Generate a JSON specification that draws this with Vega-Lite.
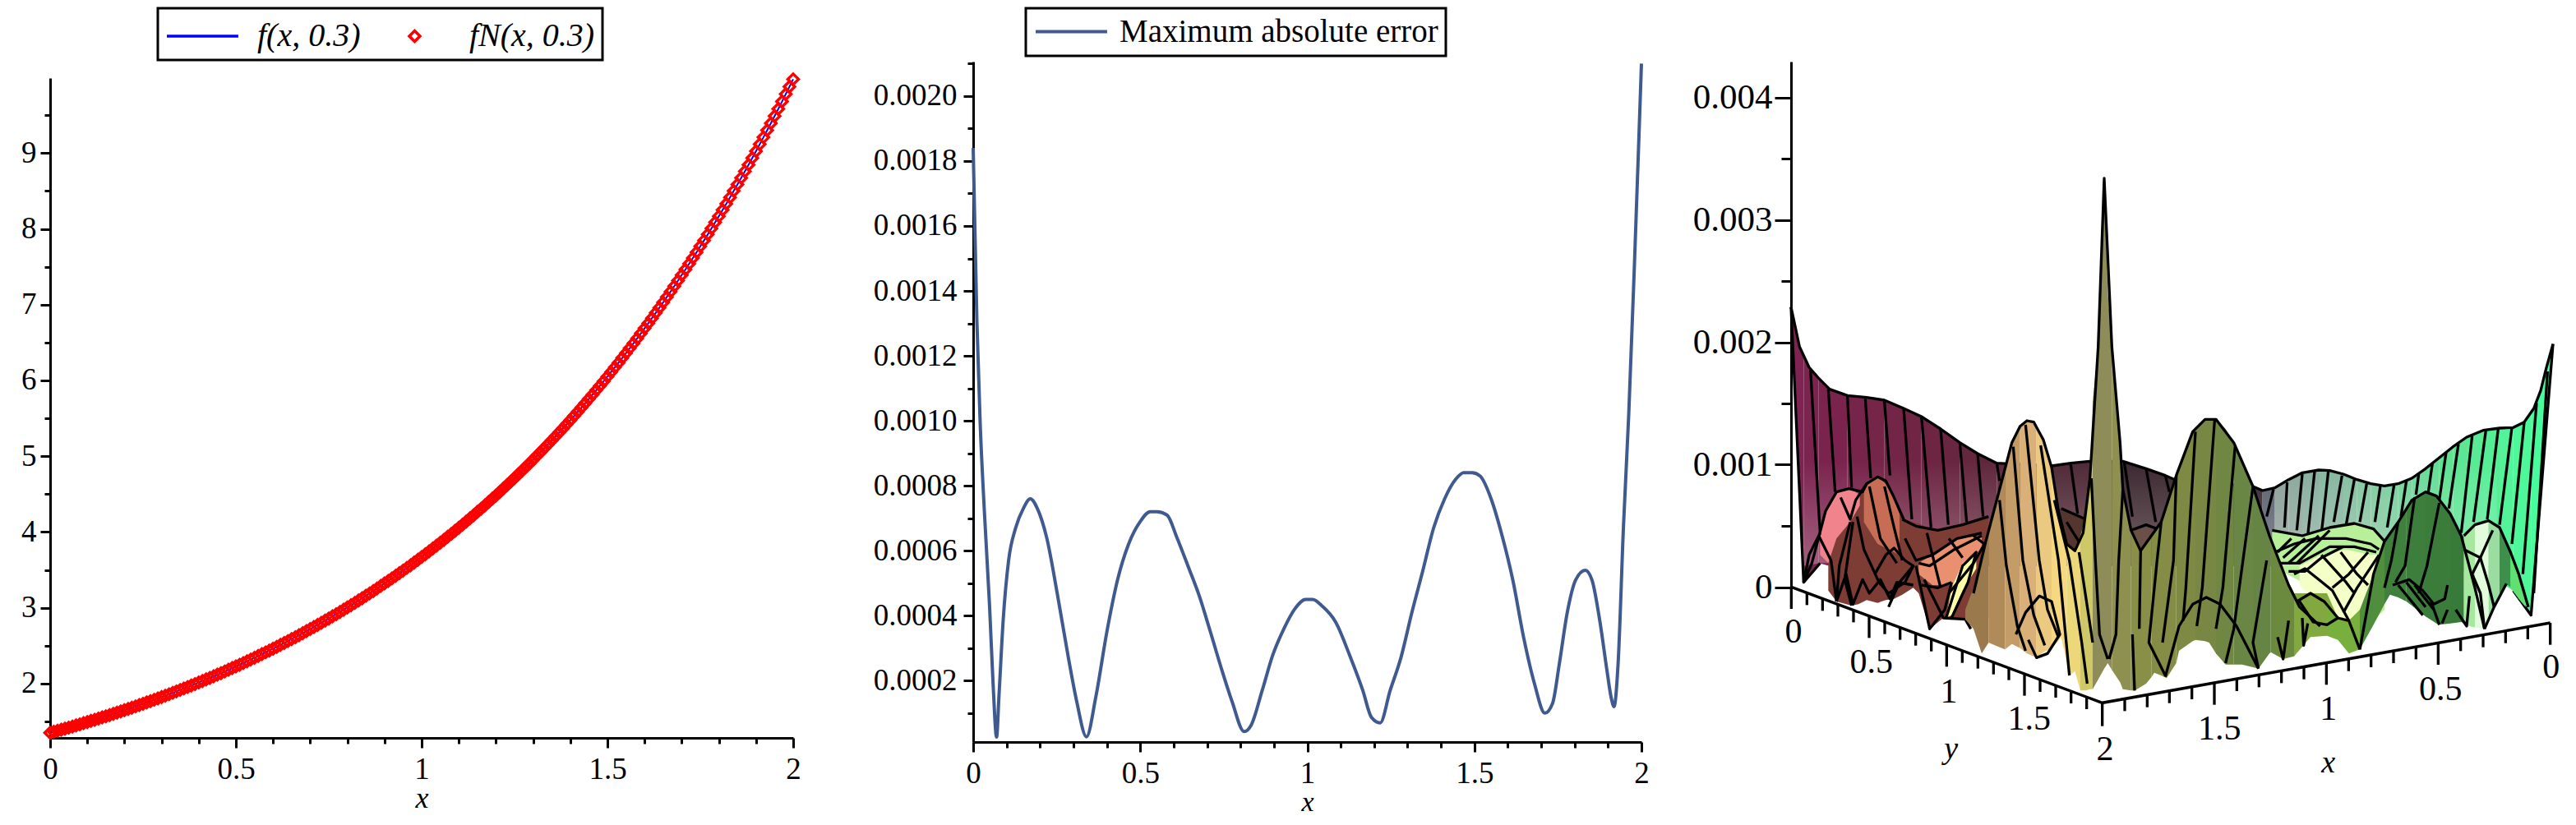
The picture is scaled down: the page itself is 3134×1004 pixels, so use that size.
{"$schema":"https://vega.github.io/schema/vega-lite/v6.json","background":"white","padding":{"left":25,"top":8,"right":0,"bottom":0},"bounds":"flush","spacing":178,
"resolve":{"scale":{"color":"independent","shape":"independent"},"legend":{"color":"independent","shape":"independent"}},
"config":{"view":{"stroke":null},"font":"Liberation Serif","axis":{"grid":false,"domainColor":"black","domainWidth":3,"tickColor":"black","tickWidth":3,"labelColor":"black","titleColor":"black","labelFont":"Liberation Serif","titleFont":"Liberation Serif","labelFontWeight":"normal","titleFontWeight":"normal","titleFontStyle":"italic","labelOverlap":false,"labelFlush":false,"zindex":1},"legend":{"strokeColor":"black","strokeWidth":3,"labelFont":"Liberation Serif","labelColor":"black","fillColor":"white","labelLimit":600}},
"datasets":{
"curve":[{"x":0,"y":1.35},{"x":0.02,"y":1.377},{"x":0.04,"y":1.405},{"x":0.06,"y":1.433},{"x":0.08,"y":1.462},{"x":0.1,"y":1.492},{"x":0.12,"y":1.522},{"x":0.14,"y":1.553},{"x":0.16,"y":1.584},{"x":0.18,"y":1.616},{"x":0.2,"y":1.649},{"x":0.22,"y":1.682},{"x":0.24,"y":1.716},{"x":0.26,"y":1.751},{"x":0.28,"y":1.786},{"x":0.3,"y":1.822},{"x":0.32,"y":1.859},{"x":0.34,"y":1.897},{"x":0.36,"y":1.935},{"x":0.38,"y":1.974},{"x":0.4,"y":2.014},{"x":0.42,"y":2.055},{"x":0.44,"y":2.096},{"x":0.46,"y":2.138},{"x":0.48,"y":2.182},{"x":0.5,"y":2.226},{"x":0.52,"y":2.271},{"x":0.54,"y":2.317},{"x":0.56,"y":2.364},{"x":0.58,"y":2.412},{"x":0.6,"y":2.46},{"x":0.62,"y":2.51},{"x":0.64,"y":2.561},{"x":0.66,"y":2.612},{"x":0.68,"y":2.665},{"x":0.7,"y":2.719},{"x":0.72,"y":2.774},{"x":0.74,"y":2.83},{"x":0.76,"y":2.887},{"x":0.78,"y":2.945},{"x":0.8,"y":3.004},{"x":0.82,"y":3.065},{"x":0.84,"y":3.127},{"x":0.86,"y":3.19},{"x":0.88,"y":3.255},{"x":0.9,"y":3.321},{"x":0.92,"y":3.388},{"x":0.94,"y":3.456},{"x":0.96,"y":3.526},{"x":0.98,"y":3.597},{"x":1,"y":3.67},{"x":1.02,"y":3.744},{"x":1.04,"y":3.82},{"x":1.06,"y":3.897},{"x":1.08,"y":3.976},{"x":1.1,"y":4.056},{"x":1.12,"y":4.138},{"x":1.14,"y":4.222},{"x":1.16,"y":4.307},{"x":1.18,"y":4.394},{"x":1.2,"y":4.482},{"x":1.22,"y":4.573},{"x":1.24,"y":4.665},{"x":1.26,"y":4.76},{"x":1.28,"y":4.856},{"x":1.3,"y":4.954},{"x":1.32,"y":5.054},{"x":1.34,"y":5.156},{"x":1.36,"y":5.26},{"x":1.38,"y":5.366},{"x":1.4,"y":5.475},{"x":1.41,"y":5.53},{"x":1.42,"y":5.585},{"x":1.43,"y":5.641},{"x":1.44,"y":5.698},{"x":1.45,"y":5.755},{"x":1.46,"y":5.813},{"x":1.47,"y":5.871},{"x":1.48,"y":5.93},{"x":1.49,"y":5.99},{"x":1.5,"y":6.05},{"x":1.51,"y":6.111},{"x":1.52,"y":6.172},{"x":1.53,"y":6.234},{"x":1.54,"y":6.297},{"x":1.55,"y":6.36},{"x":1.56,"y":6.424},{"x":1.57,"y":6.489},{"x":1.58,"y":6.554},{"x":1.59,"y":6.62},{"x":1.6,"y":6.687},{"x":1.61,"y":6.754},{"x":1.62,"y":6.822},{"x":1.63,"y":6.891},{"x":1.64,"y":6.96},{"x":1.65,"y":7.03},{"x":1.66,"y":7.101},{"x":1.67,"y":7.172},{"x":1.68,"y":7.244},{"x":1.69,"y":7.317},{"x":1.7,"y":7.39},{"x":1.71,"y":7.464},{"x":1.72,"y":7.539},{"x":1.73,"y":7.615},{"x":1.74,"y":7.692},{"x":1.75,"y":7.769},{"x":1.76,"y":7.847},{"x":1.77,"y":7.926},{"x":1.78,"y":8.006},{"x":1.79,"y":8.086},{"x":1.8,"y":8.167},{"x":1.81,"y":8.249},{"x":1.82,"y":8.332},{"x":1.83,"y":8.416},{"x":1.84,"y":8.501},{"x":1.85,"y":8.586},{"x":1.86,"y":8.672},{"x":1.87,"y":8.759},{"x":1.88,"y":8.847},{"x":1.89,"y":8.936},{"x":1.9,"y":9.026},{"x":1.91,"y":9.117},{"x":1.92,"y":9.208},{"x":1.93,"y":9.301},{"x":1.94,"y":9.394},{"x":1.95,"y":9.489},{"x":1.96,"y":9.584},{"x":1.97,"y":9.68},{"x":1.98,"y":9.778},{"x":1.99,"y":9.876},{"x":2,"y":9.975},
{"x":0.01,"y":1.364},{"x":0.03,"y":1.391},{"x":0.05,"y":1.419},{"x":0.07,"y":1.448},{"x":0.09,"y":1.477},{"x":0.11,"y":1.507},{"x":0.13,"y":1.537},{"x":0.15,"y":1.568},{"x":0.17,"y":1.6},{"x":0.19,"y":1.632},{"x":0.21,"y":1.665},{"x":0.23,"y":1.699},{"x":0.25,"y":1.733},{"x":0.27,"y":1.768},{"x":0.29,"y":1.804},{"x":0.31,"y":1.84},{"x":0.33,"y":1.878},{"x":0.35,"y":1.916},{"x":0.37,"y":1.954},{"x":0.39,"y":1.994},{"x":0.41,"y":2.034},{"x":0.43,"y":2.075},{"x":0.45,"y":2.117},{"x":0.47,"y":2.16},{"x":0.49,"y":2.204},{"x":0.51,"y":2.248},{"x":0.53,"y":2.294},{"x":0.55,"y":2.34},{"x":0.57,"y":2.388},{"x":0.59,"y":2.436},{"x":0.61,"y":2.485},{"x":0.63,"y":2.535},{"x":0.65,"y":2.587},{"x":0.67,"y":2.639},{"x":0.69,"y":2.692},{"x":0.71,"y":2.746},{"x":0.73,"y":2.802},{"x":0.75,"y":2.858},{"x":0.77,"y":2.916},{"x":0.79,"y":2.975},{"x":0.81,"y":3.035},{"x":0.83,"y":3.096},{"x":0.85,"y":3.158},{"x":0.87,"y":3.222},{"x":0.89,"y":3.288},{"x":0.91,"y":3.354},{"x":0.93,"y":3.422},{"x":0.95,"y":3.491},{"x":0.97,"y":3.561},{"x":0.99,"y":3.633},{"x":1.01,"y":3.707},{"x":1.03,"y":3.782},{"x":1.05,"y":3.858},{"x":1.07,"y":3.936},{"x":1.09,"y":4.016},{"x":1.11,"y":4.097},{"x":1.13,"y":4.18},{"x":1.15,"y":4.264},{"x":1.17,"y":4.35},{"x":1.19,"y":4.438},{"x":1.21,"y":4.527},{"x":1.23,"y":4.619},{"x":1.25,"y":4.712},{"x":1.27,"y":4.808},{"x":1.29,"y":4.905},{"x":1.31,"y":5.004},{"x":1.33,"y":5.105},{"x":1.35,"y":5.208},{"x":1.37,"y":5.313},{"x":1.39,"y":5.42}],
"error":[{"x":0,"y":0.00184},{"x":0.011,"y":0.00131},{"x":0.021,"y":0.00099},{"x":0.033,"y":0.00073},{"x":0.049,"y":0.00043},{"x":0.06,"y":0.00018},{"x":0.07,"y":0.000026},{"x":0.077,"y":0.00015},{"x":0.09,"y":0.00039},{"x":0.106,"y":0.00057},{"x":0.127,"y":0.00067},{"x":0.15,"y":0.00073},{"x":0.171,"y":0.00076},{"x":0.192,"y":0.00073},{"x":0.22,"y":0.00064},{"x":0.253,"y":0.00046},{"x":0.285,"y":0.00027},{"x":0.31,"y":0.000135},{"x":0.339,"y":0.000027},{"x":0.367,"y":0.00015},{"x":0.4,"y":0.00035},{"x":0.432,"y":0.00051},{"x":0.465,"y":0.00062},{"x":0.5,"y":0.00069},{"x":0.53,"y":0.00072},{"x":0.55,"y":0.00072},{"x":0.58,"y":0.00071},{"x":0.61,"y":0.00064},{"x":0.644,"y":0.00055},{"x":0.677,"y":0.00046},{"x":0.71,"y":0.00035},{"x":0.742,"y":0.00024},{"x":0.775,"y":0.000135},{"x":0.811,"y":0.000043},{"x":0.832,"y":0.000063},{"x":0.865,"y":0.00017},{"x":0.897,"y":0.00028},{"x":0.93,"y":0.00036},{"x":0.962,"y":0.00042},{"x":0.995,"y":0.00045},{"x":1.016,"y":0.00045},{"x":1.044,"y":0.00043},{"x":1.085,"y":0.00038},{"x":1.126,"y":0.00028},{"x":1.166,"y":0.00017},{"x":1.192,"y":0.000087},{"x":1.218,"y":0.00007},{"x":1.248,"y":0.00017},{"x":1.28,"y":0.00027},{"x":1.313,"y":0.00041},{"x":1.346,"y":0.00054},{"x":1.378,"y":0.00067},{"x":1.411,"y":0.00076},{"x":1.444,"y":0.00082},{"x":1.468,"y":0.00084},{"x":1.493,"y":0.00084},{"x":1.517,"y":0.00083},{"x":1.55,"y":0.00076},{"x":1.582,"y":0.00065},{"x":1.615,"y":0.00051},{"x":1.648,"y":0.00033},{"x":1.68,"y":0.00019},{"x":1.711,"y":0.0001},{"x":1.734,"y":0.00013},{"x":1.754,"y":0.00025},{"x":1.778,"y":0.00041},{"x":1.803,"y":0.00051},{"x":1.832,"y":0.00054},{"x":1.852,"y":0.00051},{"x":1.876,"y":0.00038},{"x":1.897,"y":0.00023},{"x":1.909,"y":0.00015},{"x":1.918,"y":0.00012},{"x":1.93,"y":0.00025},{"x":1.946,"y":0.00067},{"x":1.962,"y":0.00102},{"x":1.979,"y":0.00148},{"x":1.992,"y":0.00186},{"x":2,"y":0.0021}],
"wall":[{"s":1,"sx":24,"sy":-145,"sb":-145},{"s":1,"sx":55,"sy":0,"sb":531},{"s":1,"sx":70,"sy":40,"sb":860},{"s":2,"sx":70,"sy":40,"sb":860},{"s":2,"sx":90,"sy":75,"sb":830},{"s":2,"sx":125,"sy":115,"sb":790},{"s":3,"sx":125,"sy":115,"sb":790},{"s":3,"sx":165,"sy":155,"sb":800},{"s":3,"sx":230,"sy":178,"sb":800},{"s":4,"sx":230,"sy":178,"sb":800},{"s":4,"sx":300,"sy":185,"sb":800},{"s":5,"sx":300,"sy":185,"sb":800},{"s":5,"sx":365,"sy":195,"sb":800},{"s":6,"sx":365,"sy":195,"sb":800},{"s":6,"sx":435,"sy":225,"sb":800},{"s":7,"sx":435,"sy":225,"sb":800},{"s":7,"sx":500,"sy":255,"sb":800},{"s":8,"sx":500,"sy":255,"sb":800},{"s":8,"sx":570,"sy":300,"sb":800},{"s":9,"sx":570,"sy":300,"sb":800},{"s":9,"sx":640,"sy":350,"sb":800},{"s":10,"sx":640,"sy":350,"sb":800},{"s":10,"sx":705,"sy":390,"sb":800},{"s":11,"sx":705,"sy":390,"sb":800},{"s":11,"sx":775,"sy":425,"sb":800},{"s":12,"sx":775,"sy":425,"sb":800},{"s":12,"sx":875,"sy":430,"sb":800},{"s":12,"sx":975,"sy":435,"sb":800},{"s":13,"sx":975,"sy":435,"sb":800},{"s":13,"sx":1045,"sy":425,"sb":800},{"s":13,"sx":1115,"sy":418,"sb":800},{"s":14,"sx":1115,"sy":418,"sb":800},{"s":14,"sx":1235,"sy":418,"sb":800},{"s":15,"sx":1235,"sy":418,"sb":800},{"s":15,"sx":1320,"sy":445,"sb":800},{"s":15,"sx":1390,"sy":470,"sb":800},{"s":15,"sx":1425,"sy":485,"sb":800},{"s":16,"sx":1425,"sy":485,"sb":800},{"s":16,"sx":1710,"sy":510,"sb":800},{"s":16,"sx":1745,"sy":525,"sb":800},{"s":17,"sx":1745,"sy":525,"sb":800},{"s":17,"sx":1790,"sy":515,"sb":800},{"s":18,"sx":1790,"sy":515,"sb":800},{"s":18,"sx":1840,"sy":485,"sb":800},{"s":19,"sx":1840,"sy":485,"sb":800},{"s":19,"sx":1890,"sy":460,"sb":800},{"s":20,"sx":1890,"sy":460,"sb":800},{"s":20,"sx":1950,"sy":450,"sb":800},{"s":21,"sx":1950,"sy":450,"sb":800},{"s":21,"sx":1990,"sy":452,"sb":800},{"s":21,"sx":2040,"sy":465,"sb":800},{"s":22,"sx":2040,"sy":465,"sb":800},{"s":22,"sx":2090,"sy":485,"sb":800},{"s":23,"sx":2090,"sy":485,"sb":800},{"s":23,"sx":2140,"sy":500,"sb":800},{"s":24,"sx":2140,"sy":500,"sb":800},{"s":24,"sx":2190,"sy":508,"sb":800},{"s":25,"sx":2190,"sy":508,"sb":800},{"s":25,"sx":2240,"sy":500,"sb":800},{"s":26,"sx":2240,"sy":500,"sb":800},{"s":26,"sx":2290,"sy":480,"sb":800},{"s":27,"sx":2290,"sy":480,"sb":800},{"s":27,"sx":2340,"sy":445,"sb":800},{"s":28,"sx":2340,"sy":445,"sb":800},{"s":28,"sx":2390,"sy":405,"sb":800},{"s":29,"sx":2390,"sy":405,"sb":800},{"s":29,"sx":2440,"sy":365,"sb":820},{"s":30,"sx":2440,"sy":365,"sb":820},{"s":30,"sx":2490,"sy":330,"sb":820},{"s":31,"sx":2490,"sy":330,"sb":820},{"s":31,"sx":2550,"sy":305,"sb":850},{"s":32,"sx":2550,"sy":305,"sb":850},{"s":32,"sx":2610,"sy":297,"sb":860},{"s":33,"sx":2610,"sy":297,"sb":860},{"s":33,"sx":2660,"sy":295,"sb":890},{"s":34,"sx":2660,"sy":295,"sb":890},{"s":34,"sx":2700,"sy":275,"sb":930},{"s":34,"sx":2725,"sy":245,"sb":980},{"s":35,"sx":2725,"sy":245,"sb":980},{"s":35,"sx":2735,"sy":225,"sb":856},{"s":35,"sx":2760,"sy":160,"sb":546},{"s":35,"sx":2780,"sy":80,"sb":298},{"s":35,"sx":2805,"sy":-10,"sb":-10}],
"glow":[{"sx":70,"sy":420,"sb":800},{"sx":130,"sy":420,"sb":790},{"sx":2600,"sy":420,"sb":800}],
"wallLines":[{"k":"top","sx":24,"sy":-145},{"k":"top","sx":55,"sy":0},{"k":"top","sx":90,"sy":75},{"k":"top","sx":125,"sy":115},{"k":"top","sx":165,"sy":155},{"k":"top","sx":230,"sy":178},{"k":"top","sx":300,"sy":185},{"k":"top","sx":365,"sy":195},{"k":"top","sx":435,"sy":225},{"k":"top","sx":500,"sy":255},{"k":"top","sx":570,"sy":300},{"k":"top","sx":640,"sy":350},{"k":"top","sx":705,"sy":390},{"k":"top","sx":775,"sy":425},{"k":"top","sx":975,"sy":435},{"k":"top","sx":1045,"sy":425},{"k":"top","sx":1115,"sy":418},{"k":"top","sx":1235,"sy":418},{"k":"top","sx":1320,"sy":445},{"k":"top","sx":1390,"sy":470},{"k":"top","sx":1425,"sy":485},{"k":"top","sx":1710,"sy":510},{"k":"top","sx":1745,"sy":525},{"k":"top","sx":1790,"sy":515},{"k":"top","sx":1840,"sy":485},{"k":"top","sx":1890,"sy":460},{"k":"top","sx":1950,"sy":450},{"k":"top","sx":1990,"sy":452},{"k":"top","sx":2040,"sy":465},{"k":"top","sx":2090,"sy":485},{"k":"top","sx":2140,"sy":500},{"k":"top","sx":2190,"sy":508},{"k":"top","sx":2240,"sy":500},{"k":"top","sx":2290,"sy":480},{"k":"top","sx":2340,"sy":445},{"k":"top","sx":2390,"sy":405},{"k":"top","sx":2440,"sy":365},{"k":"top","sx":2490,"sy":330},{"k":"top","sx":2550,"sy":305},{"k":"top","sx":2610,"sy":297},{"k":"top","sx":2660,"sy":295},{"k":"top","sx":2700,"sy":275},{"k":"top","sx":2735,"sy":225},{"k":"top","sx":2760,"sy":160},{"k":"top","sx":2780,"sy":80},{"k":"top","sx":2805,"sy":-10},
{"k":"le","sx":24,"sy":-145},{"k":"le","sx":70,"sy":860},{"k":"le","sx":130,"sy":790},{"k":"re","sx":2805,"sy":-10},{"k":"re","sx":2725,"sy":980},{"k":"re","sx":2660,"sy":890},
{"k":"w1","sx":95,"sy":85},{"k":"w1","sx":130,"sy":680},{"k":"w2","sx":160,"sy":155},{"k":"w2","sx":185,"sy":530},{"k":"w3","sx":230,"sy":180},{"k":"w3","sx":245,"sy":515},{"k":"w4","sx":295,"sy":190},{"k":"w4","sx":315,"sy":480},{"k":"w5","sx":365,"sy":200},{"k":"w5","sx":385,"sy":470},{"k":"w6","sx":435,"sy":225},{"k":"w6","sx":465,"sy":630},{"k":"w7","sx":500,"sy":255},{"k":"w7","sx":535,"sy":660},{"k":"w8","sx":570,"sy":300},{"k":"w8","sx":598,"sy":650},{"k":"w9","sx":640,"sy":350},{"k":"w9","sx":665,"sy":640},{"k":"w10","sx":705,"sy":390},{"k":"w10","sx":725,"sy":620},{"k":"w11","sx":775,"sy":425},{"k":"w11","sx":785,"sy":490},{"k":"w12","sx":1045,"sy":430},{"k":"w12","sx":1070,"sy":610},{"k":"w13","sx":1240,"sy":420},{"k":"w13","sx":1270,"sy":620},{"k":"w14","sx":1320,"sy":445},{"k":"w14","sx":1355,"sy":640},{"k":"w15","sx":1390,"sy":470},{"k":"w15","sx":1405,"sy":530},
{"k":"v1","sx":1785,"sy":520},{"k":"v1","sx":1760,"sy":620},{"k":"v2","sx":1835,"sy":495},{"k":"v2","sx":1825,"sy":660},{"k":"v3","sx":1890,"sy":465},{"k":"v3","sx":1870,"sy":670},{"k":"v4","sx":1935,"sy":455},{"k":"v4","sx":1910,"sy":690},{"k":"v5","sx":1985,"sy":455},{"k":"v5","sx":1960,"sy":680},{"k":"v6","sx":2035,"sy":470},{"k":"v6","sx":2005,"sy":640},{"k":"v7","sx":2080,"sy":485},{"k":"v7","sx":2050,"sy":650},{"k":"v8","sx":2125,"sy":500},{"k":"v8","sx":2100,"sy":640},{"k":"v9","sx":2175,"sy":508},{"k":"v9","sx":2155,"sy":640},{"k":"v10","sx":2225,"sy":505},{"k":"v10","sx":2200,"sy":660},{"k":"v11","sx":2270,"sy":490},{"k":"v11","sx":2250,"sy":620},{"k":"v12","sx":2315,"sy":465},{"k":"v12","sx":2305,"sy":540},{"k":"v13","sx":2365,"sy":425},{"k":"v13","sx":2350,"sy":530},{"k":"v14","sx":2415,"sy":385},{"k":"v14","sx":2390,"sy":560},{"k":"v15","sx":2460,"sy":355},{"k":"v15","sx":2425,"sy":590},{"k":"v16","sx":2510,"sy":325},{"k":"v16","sx":2470,"sy":680},{"k":"v17","sx":2560,"sy":305},{"k":"v17","sx":2515,"sy":640},{"k":"v18","sx":2605,"sy":300},{"k":"v18","sx":2565,"sy":630},{"k":"v19","sx":2655,"sy":295},{"k":"v19","sx":2610,"sy":650},{"k":"v20","sx":2700,"sy":275},{"k":"v20","sx":2655,"sy":720},{"k":"v21","sx":2745,"sy":205},{"k":"v21","sx":2695,"sy":830},{"k":"v22","sx":2785,"sy":90},{"k":"v22","sx":2735,"sy":900}],
"mid":[{"part":"brown","sx":1000,"sy":590,"sb":760},{"part":"brown","sx":1100,"sy":630,"sb":760},{"part":"notch","sx":1265,"sy":665,"sb":745},{"part":"notch","sx":1360,"sy":660,"sb":745},
{"part":"brick","sx":160,"sy":760,"sb":890},{"part":"brick","sx":190,"sy":560,"sb":930},{"part":"brick","sx":245,"sy":518,"sb":945},{"part":"brick","sx":270,"sy":560,"sb":940},{"part":"brick","sx":300,"sy":500,"sb":925},{"part":"brick","sx":340,"sy":475,"sb":935},{"part":"brick","sx":370,"sy":490,"sb":925},{"part":"brick","sx":400,"sy":550,"sb":920},{"part":"brick","sx":430,"sy":625,"sb":905},{"part":"brick","sx":470,"sy":640,"sb":880},{"part":"brick","sx":490,"sy":645,"sb":900},{"part":"brick","sx":530,"sy":665,"sb":1030},{"part":"brick","sx":580,"sy":670,"sb":990},{"part":"brick","sx":630,"sy":650,"sb":990},{"part":"brick","sx":680,"sy":640,"sb":990},{"part":"brick","sx":745,"sy":620,"sb":990},
{"part":"salmon","sx":290,"sy":510,"sb":640},{"part":"salmon","sx":340,"sy":475,"sb":720},{"part":"salmon","sx":380,"sy":510,"sb":740},{"part":"salmon","sx":420,"sy":610,"sb":760},
{"part":"pink","sx":130,"sy":670,"sb":760},{"part":"pink","sx":160,"sy":575,"sb":790},{"part":"pink","sx":190,"sy":530,"sb":700},{"part":"pink","sx":240,"sy":518,"sb":640},{"part":"pink","sx":275,"sy":540,"sb":580},
{"part":"orange","sx":490,"sy":790,"sb":830},{"part":"orange","sx":540,"sy":760,"sb":870},{"part":"orange","sx":630,"sy":700,"sb":870},{"part":"orange","sx":720,"sy":690,"sb":740},
{"part":"cream","sx":590,"sy":990,"sb":990},{"part":"cream","sx":610,"sy":880,"sb":980},{"part":"cream","sx":650,"sy":790,"sb":890},{"part":"cream","sx":700,"sy":750,"sb":810},
{"part":"meshR","sx":1780,"sy":670,"sb":800},{"part":"meshR","sx":1890,"sy":690,"sb":860},{"part":"meshR","sx":1990,"sy":660,"sb":970},{"part":"meshR","sx":2080,"sy":645,"sb":1000},{"part":"meshR","sx":2150,"sy":665,"sb":1000},{"part":"meshR","sx":2190,"sy":710,"sb":960},
{"part":"pale","sx":1880,"sy":800,"sb":870},{"part":"pale","sx":1960,"sy":760,"sb":950},{"part":"pale","sx":2050,"sy":740,"sb":1000},{"part":"pale","sx":2140,"sy":760,"sb":960},{"part":"pale","sx":2190,"sy":760,"sb":800}],
"midLines":[{"k":"p1","sx":70,"sy":860},{"k":"p1","sx":100,"sy":790},{"k":"p1","sx":150,"sy":600},{"k":"p1","sx":190,"sy":530},{"k":"p1","sx":235,"sy":518},{"k":"p1","sx":285,"sy":530},{"k":"p1","sx":300,"sy":500},{"k":"p1","sx":340,"sy":475},{"k":"p1","sx":370,"sy":490},{"k":"p1","sx":400,"sy":550},{"k":"p1","sx":435,"sy":630},
{"k":"p2","sx":205,"sy":550},{"k":"p2","sx":240,"sy":630},{"k":"p2","sx":260,"sy":560},{"k":"p2","sx":300,"sy":500},{"k":"p3","sx":125,"sy":690},{"k":"p3","sx":170,"sy":780},{"k":"p3","sx":190,"sy":930},{"k":"p3b","sx":240,"sy":640},{"k":"p3b","sx":200,"sy":800},{"k":"p3b","sx":190,"sy":930},{"k":"p4","sx":250,"sy":640},{"k":"p4","sx":220,"sy":850},{"k":"p4","sx":245,"sy":945},{"k":"p5","sx":310,"sy":510},{"k":"p5","sx":350,"sy":700},{"k":"p5","sx":410,"sy":790},{"k":"p5b","sx":365,"sy":510},{"k":"p5b","sx":400,"sy":660},{"k":"p5b","sx":430,"sy":780},{"k":"p6","sx":265,"sy":620},{"k":"p6","sx":290,"sy":740},{"k":"p6","sx":345,"sy":860},{"k":"p6","sx":380,"sy":900},{"k":"p6","sx":440,"sy":860},{"k":"p6","sx":470,"sy":800},{"k":"p6b","sx":330,"sy":830},{"k":"p6b","sx":370,"sy":760},{"k":"p6b","sx":400,"sy":735},{"k":"p6b","sx":440,"sy":780},{"k":"p6b","sx":470,"sy":800},{"k":"p6b","sx":420,"sy":860},{"k":"p6b","sx":380,"sy":950},{"k":"p7","sx":130,"sy":680},{"k":"p7","sx":90,"sy":760},{"k":"p7","sx":70,"sy":860},
{"k":"z","sx":190,"sy":930},{"k":"z","sx":225,"sy":830},{"k":"z","sx":250,"sy":940},{"k":"z","sx":285,"sy":850},{"k":"z","sx":310,"sy":900},{"k":"z","sx":350,"sy":850},{"k":"z","sx":385,"sy":920},{"k":"z","sx":410,"sy":860},{"k":"z","sx":470,"sy":870},
{"k":"m1","sx":430,"sy":630},{"k":"m1","sx":480,"sy":655},{"k":"m1","sx":560,"sy":670},{"k":"m1","sx":650,"sy":650},{"k":"m1","sx":745,"sy":620},{"k":"m2","sx":440,"sy":700},{"k":"m2","sx":480,"sy":780},{"k":"m2","sx":540,"sy":760},{"k":"m2","sx":630,"sy":700},{"k":"m2","sx":720,"sy":680},{"k":"m3","sx":490,"sy":790},{"k":"m3","sx":530,"sy":800},{"k":"m3","sx":620,"sy":740},{"k":"m3","sx":720,"sy":690},{"k":"m4","sx":520,"sy":680},{"k":"m4","sx":540,"sy":760},{"k":"m4","sx":570,"sy":880},{"k":"m5","sx":600,"sy":700},{"k":"m5","sx":650,"sy":770},{"k":"m6","sx":690,"sy":690},{"k":"m6","sx":730,"sy":720},{"k":"m6","sx":690,"sy":790},{"k":"m6","sx":600,"sy":900},{"k":"m7","sx":500,"sy":870},{"k":"m7","sx":560,"sy":880},{"k":"m7","sx":610,"sy":860},{"k":"m8","sx":480,"sy":800},{"k":"m8","sx":530,"sy":1030},{"k":"m8","sx":585,"sy":960},{"k":"m8","sx":610,"sy":860},{"k":"m9","sx":510,"sy":850},{"k":"m9","sx":580,"sy":990},{"k":"m9","sx":660,"sy":995},{"k":"m9","sx":680,"sy":1030},{"k":"lf","sx":590,"sy":990},{"k":"lf","sx":650,"sy":800},{"k":"lf","sx":700,"sy":750},{"k":"lf","sx":670,"sy":860},{"k":"lf","sx":610,"sy":990},
{"k":"b1","sx":1010,"sy":590},{"k":"b1","sx":1100,"sy":630},{"k":"b2","sx":1265,"sy":670},{"k":"b2","sx":1320,"sy":650},{"k":"b2","sx":1360,"sy":665},{"k":"b3","sx":1030,"sy":640},{"k":"b3","sx":1080,"sy":720},
{"k":"n1","sx":1780,"sy":670},{"k":"n1","sx":1890,"sy":690},{"k":"n1","sx":1990,"sy":660},{"k":"n1","sx":2080,"sy":645},{"k":"n1","sx":2150,"sy":665},{"k":"n1","sx":2190,"sy":710},{"k":"n2","sx":1790,"sy":750},{"k":"n2","sx":1860,"sy":720},{"k":"n2","sx":1940,"sy":700},{"k":"n2","sx":2050,"sy":700},{"k":"n2","sx":2140,"sy":720},{"k":"n2","sx":2170,"sy":740},{"k":"n3","sx":1810,"sy":790},{"k":"n3","sx":1880,"sy":790},{"k":"n3","sx":1990,"sy":730},{"k":"n3","sx":2080,"sy":730},{"k":"n3","sx":2160,"sy":750},{"k":"n4","sx":1840,"sy":820},{"k":"n4","sx":1900,"sy":820},{"k":"n4","sx":1960,"sy":770},{"k":"n4","sx":2040,"sy":730},{"k":"n5","sx":1860,"sy":830},{"k":"n5","sx":1900,"sy":810},{"k":"n5","sx":1950,"sy":850},{"k":"n5","sx":2000,"sy":890},{"k":"n5","sx":2060,"sy":1000},{"k":"n6","sx":1960,"sy":760},{"k":"n6","sx":2050,"sy":860},{"k":"n6","sx":2080,"sy":900},{"k":"n7","sx":2030,"sy":750},{"k":"n7","sx":2090,"sy":830},{"k":"n7","sx":2130,"sy":870},{"k":"n8","sx":2130,"sy":750},{"k":"n8","sx":2060,"sy":830},{"k":"n8","sx":2000,"sy":880},{"k":"n9","sx":2170,"sy":760},{"k":"n9","sx":2090,"sy":880},{"k":"n9","sx":2040,"sy":970},{"k":"h1","sx":1800,"sy":750},{"k":"h1","sx":1850,"sy":700},{"k":"h2","sx":1820,"sy":770},{"k":"h2","sx":1900,"sy":700},{"k":"h3","sx":1840,"sy":790},{"k":"h3","sx":1950,"sy":690},{"k":"h4","sx":1870,"sy":790},{"k":"h4","sx":1990,"sy":670}],
"skin":[{"b":1,"sx":660,"sy":960,"sb":995},{"b":1,"sx":690,"sy":880,"sb":1030},{"b":1,"sx":720,"sy":770,"sb":1120},{"b":1,"sx":745,"sy":680,"sb":1080},{"b":2,"sx":745,"sy":680,"sb":1080},{"b":2,"sx":780,"sy":540,"sb":1095},{"b":2,"sx":805,"sy":450,"sb":1105},{"b":3,"sx":805,"sy":450,"sb":1105},{"b":3,"sx":830,"sy":350,"sb":1085},{"b":3,"sx":860,"sy":290,"sb":1100},{"b":4,"sx":860,"sy":290,"sb":1100},{"b":4,"sx":885,"sy":270,"sb":1120},{"b":4,"sx":910,"sy":275,"sb":1130},{"b":4,"sx":920,"sy":290,"sb":1135},{"b":5,"sx":920,"sy":290,"sb":1135},{"b":5,"sx":945,"sy":340,"sb":1115},{"b":5,"sx":975,"sy":440,"sb":1100},{"b":6,"sx":975,"sy":440,"sb":1100},{"b":6,"sx":1000,"sy":600,"sb":1075},{"b":6,"sx":1010,"sy":640,"sb":1060},{"b":6,"sx":1030,"sy":720,"sb":1150},{"b":7,"sx":1030,"sy":720,"sb":1150},{"b":7,"sx":1040,"sy":735,"sb":1200},{"b":7,"sx":1060,"sy":745,"sb":1185},{"b":7,"sx":1080,"sy":690,"sb":1255},{"b":8,"sx":1080,"sy":690,"sb":1255},{"b":8,"sx":1100,"sy":620,"sb":1255},{"b":8,"sx":1115,"sy":480,"sb":1250},{"b":8,"sx":1125,"sy":200,"sb":1250},{"b":9,"sx":1125,"sy":200,"sb":1250},{"b":9,"sx":1145,"sy":0,"sb":1215},{"b":9,"sx":1167,"sy":-615,"sb":1175},{"b":9,"sx":1180,"sy":-200,"sb":1155},{"b":9,"sx":1195,"sy":0,"sb":1180},{"b":10,"sx":1195,"sy":0,"sb":1180},{"b":10,"sx":1225,"sy":350,"sb":1225},{"b":10,"sx":1235,"sy":520,"sb":1250},{"b":10,"sx":1265,"sy":670,"sb":1255},{"b":11,"sx":1265,"sy":670,"sb":1255},{"b":11,"sx":1280,"sy":710,"sb":1255},{"b":11,"sx":1300,"sy":745,"sb":1242},{"b":11,"sx":1320,"sy":720,"sb":1230},{"b":11,"sx":1340,"sy":690,"sb":1205},{"b":12,"sx":1340,"sy":690,"sb":1205},{"b":12,"sx":1350,"sy":680,"sb":1190},{"b":12,"sx":1375,"sy":640,"sb":1200},{"b":12,"sx":1395,"sy":590,"sb":1210},{"b":12,"sx":1430,"sy":470,"sb":1155},{"b":13,"sx":1430,"sy":470,"sb":1155},{"b":13,"sx":1440,"sy":440,"sb":1110},{"b":13,"sx":1490,"sy":310,"sb":1075},{"b":13,"sx":1500,"sy":295,"sb":1070},{"b":14,"sx":1500,"sy":295,"sb":1070},{"b":14,"sx":1535,"sy":265,"sb":1075},{"b":14,"sx":1550,"sy":263,"sb":1080},{"b":14,"sx":1575,"sy":265,"sb":1120},{"b":15,"sx":1575,"sy":265,"sb":1120},{"b":15,"sx":1610,"sy":300,"sb":1160},{"b":15,"sx":1640,"sy":350,"sb":1160},{"b":16,"sx":1640,"sy":350,"sb":1160},{"b":16,"sx":1670,"sy":410,"sb":1160},{"b":16,"sx":1710,"sy":510,"sb":1170},{"b":17,"sx":1710,"sy":510,"sb":1170},{"b":17,"sx":1730,"sy":570,"sb":1175},{"b":17,"sx":1770,"sy":690,"sb":1120},{"b":17,"sx":1775,"sy":705,"sb":1115},{"b":18,"sx":1775,"sy":705,"sb":1115},{"b":18,"sx":1820,"sy":820,"sb":1140},{"b":18,"sx":1860,"sy":900,"sb":1130},{"b":19,"sx":1860,"sy":900,"sb":1130},{"b":19,"sx":1920,"sy":900,"sb":1060},{"b":19,"sx":1980,"sy":900,"sb":1055},{"b":20,"sx":1980,"sy":900,"sb":1055},{"b":20,"sx":2020,"sy":990,"sb":1070},{"b":20,"sx":2060,"sy":1000,"sb":1120},{"b":20,"sx":2100,"sy":960,"sb":1105},{"b":21,"sx":2100,"sy":960,"sb":1105},{"b":21,"sx":2150,"sy":830,"sb":1015},{"b":21,"sx":2190,"sy":710,"sb":940},{"b":22,"sx":2190,"sy":710,"sb":940},{"b":22,"sx":2210,"sy":685,"sb":905},{"b":22,"sx":2240,"sy":640,"sb":915},{"b":22,"sx":2270,"sy":595,"sb":930},{"b":23,"sx":2270,"sy":595,"sb":930},{"b":23,"sx":2290,"sy":560,"sb":945},{"b":23,"sx":2340,"sy":530,"sb":985},{"b":24,"sx":2340,"sy":530,"sb":985},{"b":24,"sx":2380,"sy":545,"sb":1010},{"b":24,"sx":2390,"sy":555,"sb":1015},{"b":24,"sx":2430,"sy":610,"sb":1010},{"b":25,"sx":2430,"sy":610,"sb":1010},{"b":25,"sx":2470,"sy":690,"sb":1005},{"b":25,"sx":2480,"sy":690,"sb":1010},{"b":26,"sx":2480,"sy":690,"sb":1010},{"b":26,"sx":2500,"sy":665,"sb":1020},{"b":26,"sx":2520,"sy":650,"sb":1025},{"b":27,"sx":2520,"sy":650,"sb":1025},{"b":27,"sx":2555,"sy":640,"sb":1030},{"b":27,"sx":2570,"sy":635,"sb":1000},{"b":28,"sx":2570,"sy":635,"sb":1000},{"b":28,"sx":2610,"sy":660,"sb":920},{"b":29,"sx":2610,"sy":660,"sb":920},{"b":29,"sx":2635,"sy":720,"sb":865},{"b":29,"sx":2650,"sy":750,"sb":880},{"b":30,"sx":2650,"sy":750,"sb":880},{"b":30,"sx":2680,"sy":830,"sb":920},{"b":30,"sx":2705,"sy":890,"sb":950}],
"frontLines":[{"k":"o","sx":690,"sy":900},{"k":"o","sx":735,"sy":710},{"k":"o","sx":780,"sy":540},{"k":"o","sx":830,"sy":350},{"k":"o","sx":860,"sy":290},{"k":"o","sx":885,"sy":270},{"k":"o","sx":910,"sy":275},{"k":"o","sx":945,"sy":340},{"k":"o","sx":975,"sy":440},{"k":"o","sx":1000,"sy":600},{"k":"o","sx":1030,"sy":720},{"k":"o","sx":1060,"sy":745},{"k":"o","sx":1090,"sy":680},{"k":"o","sx":1115,"sy":480},{"k":"o","sx":1145,"sy":0},{"k":"o","sx":1167,"sy":-615},{"k":"o","sx":1195,"sy":0},{"k":"o","sx":1225,"sy":350},{"k":"o","sx":1235,"sy":520},{"k":"o","sx":1265,"sy":670},{"k":"o","sx":1300,"sy":745},{"k":"o","sx":1375,"sy":640},{"k":"o","sx":1430,"sy":470},{"k":"o","sx":1490,"sy":310},{"k":"o","sx":1535,"sy":265},{"k":"o","sx":1575,"sy":265},{"k":"o","sx":1640,"sy":350},{"k":"o","sx":1710,"sy":510},{"k":"o","sx":1770,"sy":690},{"k":"o","sx":1840,"sy":870},{"k":"o","sx":1880,"sy":950},{"k":"o","sx":1955,"sy":1020},
{"k":"L1","sx":785,"sy":560},{"k":"L1","sx":810,"sy":800},{"k":"L1","sx":850,"sy":1020},{"k":"L1","sx":880,"sy":1110},{"k":"L2","sx":835,"sy":365},{"k":"L2","sx":870,"sy":780},{"k":"L2","sx":910,"sy":980},{"k":"L2","sx":950,"sy":1090},{"k":"L3","sx":880,"sy":285},{"k":"L3","sx":930,"sy":780},{"k":"L3","sx":960,"sy":960},{"k":"L3","sx":1000,"sy":1060},{"k":"L4","sx":935,"sy":360},{"k":"L4","sx":1000,"sy":780},{"k":"L4","sx":1040,"sy":1200},{"k":"L5","sx":985,"sy":560},{"k":"L5","sx":1040,"sy":780},{"k":"L5","sx":1085,"sy":1080},{"k":"L5","sx":1105,"sy":1230},{"k":"L6","sx":1075,"sy":750},{"k":"L6","sx":1110,"sy":980},{"k":"L6","sx":1125,"sy":1080},{"k":"L7","sx":1120,"sy":480},{"k":"L7","sx":1135,"sy":780},{"k":"L7","sx":1150,"sy":1050},{"k":"L7","sx":1180,"sy":1140},{"k":"L8","sx":1235,"sy":520},{"k":"L8","sx":1220,"sy":780},{"k":"L8","sx":1210,"sy":1050},{"k":"L8","sx":1185,"sy":1140},{"k":"L9","sx":1300,"sy":745},{"k":"L9","sx":1295,"sy":1030},{"k":"L9b","sx":1270,"sy":1050},{"k":"L9b","sx":1278,"sy":1255},{"k":"L10","sx":1375,"sy":640},{"k":"L10","sx":1360,"sy":780},{"k":"L10","sx":1330,"sy":1080},{"k":"L10","sx":1390,"sy":1200},{"k":"L11","sx":1430,"sy":470},{"k":"L11","sx":1420,"sy":780},{"k":"L11","sx":1380,"sy":1080},{"k":"L12","sx":1500,"sy":310},{"k":"L12","sx":1465,"sy":880},{"k":"L12","sx":1455,"sy":1000},{"k":"L13","sx":1570,"sy":270},{"k":"L13","sx":1525,"sy":880},{"k":"L13","sx":1505,"sy":1020},{"k":"L14","sx":1645,"sy":360},{"k":"L14","sx":1600,"sy":880},{"k":"L14","sx":1575,"sy":1030},{"k":"L15","sx":1710,"sy":510},{"k":"L15","sx":1660,"sy":880},{"k":"L15","sx":1640,"sy":1030},{"k":"L15","sx":1610,"sy":1155},{"k":"L16","sx":1760,"sy":780},{"k":"L16","sx":1710,"sy":1080},{"k":"L16","sx":1730,"sy":1175},
{"k":"A1","sx":845,"sy":1050},{"k":"A1","sx":880,"sy":970},{"k":"A1","sx":930,"sy":910},{"k":"A1","sx":975,"sy":930},{"k":"A1","sx":1005,"sy":1050},{"k":"A1","sx":960,"sy":1120},{"k":"A1","sx":920,"sy":1135},{"k":"A1","sx":890,"sy":1070},{"k":"A2","sx":1390,"sy":1205},{"k":"A2","sx":1440,"sy":1020},{"k":"A2","sx":1490,"sy":940},{"k":"A2","sx":1540,"sy":915},{"k":"A2","sx":1590,"sy":940},{"k":"A2","sx":1650,"sy":1020},{"k":"A2","sx":1730,"sy":1175},{"k":"A3","sx":1870,"sy":930},{"k":"A3","sx":1920,"sy":900},{"k":"A3","sx":1970,"sy":930},{"k":"A3","sx":2020,"sy":990},{"k":"A3","sx":1980,"sy":1015},{"k":"A3","sx":1930,"sy":1005},{"k":"A3","sx":1880,"sy":930},
{"k":"J1","sx":2100,"sy":1105},{"k":"J1","sx":2060,"sy":1000},{"k":"J1","sx":2020,"sy":990},{"k":"J2","sx":1840,"sy":1000},{"k":"J2","sx":1820,"sy":1140},{"k":"J2","sx":1800,"sy":1060},{"k":"J3","sx":1890,"sy":990},{"k":"J3","sx":1895,"sy":1090},{"k":"J3","sx":1910,"sy":1010},
{"k":"D","sx":2100,"sy":1105},{"k":"D","sx":2150,"sy":830},{"k":"D","sx":2190,"sy":710},{"k":"D","sx":2240,"sy":640},{"k":"D","sx":2290,"sy":560},{"k":"D","sx":2340,"sy":530},{"k":"D","sx":2380,"sy":545},{"k":"D","sx":2430,"sy":610},{"k":"D","sx":2470,"sy":690},{"k":"D","sx":2520,"sy":880},{"k":"D","sx":2555,"sy":1030},{"k":"D1","sx":2300,"sy":550},{"k":"D1","sx":2265,"sy":800},{"k":"D1","sx":2230,"sy":860},{"k":"D2","sx":2390,"sy":570},{"k":"D2","sx":2345,"sy":800},{"k":"D2","sx":2315,"sy":900},{"k":"D3","sx":2240,"sy":640},{"k":"D3","sx":2215,"sy":780},{"k":"D3","sx":2190,"sy":880},{"k":"D4","sx":2220,"sy":870},{"k":"D4","sx":2280,"sy":850},{"k":"D4","sx":2330,"sy":890},{"k":"D4","sx":2370,"sy":940},{"k":"D4","sx":2410,"sy":920},{"k":"D4","sx":2420,"sy":870},{"k":"D5","sx":2240,"sy":870},{"k":"D5","sx":2330,"sy":980},{"k":"D6","sx":2270,"sy":860},{"k":"D6","sx":2340,"sy":950},{"k":"D7","sx":2300,"sy":870},{"k":"D7","sx":2370,"sy":960},{"k":"D8","sx":2390,"sy":1015},{"k":"D8","sx":2360,"sy":930},{"k":"D9","sx":2450,"sy":960},{"k":"D9","sx":2490,"sy":1020},{"k":"D9","sx":2500,"sy":910},{"k":"D10","sx":2400,"sy":1010},{"k":"D10","sx":2420,"sy":960},
{"k":"S","sx":2480,"sy":690},{"k":"S","sx":2520,"sy":650},{"k":"S","sx":2570,"sy":635},{"k":"S","sx":2610,"sy":660},{"k":"S","sx":2650,"sy":750},{"k":"S","sx":2680,"sy":830},{"k":"S","sx":2715,"sy":950},{"k":"S1","sx":2480,"sy":740},{"k":"S1","sx":2540,"sy":770},{"k":"S1","sx":2570,"sy":870},{"k":"S1","sx":2590,"sy":950},{"k":"S2","sx":2540,"sy":770},{"k":"S2","sx":2585,"sy":670},{"k":"S3","sx":2540,"sy":770},{"k":"S3","sx":2510,"sy":830},{"k":"S3","sx":2540,"sy":900},{"k":"S3","sx":2555,"sy":1030},{"k":"S4","sx":2635,"sy":865},{"k":"S4","sx":2590,"sy":950},{"k":"S4","sx":2555,"sy":1030}],
"axis3":[{"sx":25,"sy":877},{"sx":1160,"sy":1300},{"sx":2795,"sy":1008}],
"ticks3":[{"sx":25,"sy":877,"sy2":957},{"sx":82,"sy":898,"sy2":943},{"sx":139,"sy":919,"sy2":964},{"sx":195,"sy":940,"sy2":985},{"sx":252,"sy":961,"sy2":1006},{"sx":309,"sy":983,"sy2":1063},{"sx":366,"sy":1004,"sy2":1049},{"sx":422,"sy":1025,"sy2":1070},{"sx":479,"sy":1046,"sy2":1091},{"sx":536,"sy":1067,"sy2":1112},{"sx":592,"sy":1088,"sy2":1168},{"sx":649,"sy":1109,"sy2":1154},{"sx":706,"sy":1130,"sy2":1175},{"sx":763,"sy":1151,"sy2":1196},{"sx":819,"sy":1172,"sy2":1217},{"sx":876,"sy":1194,"sy2":1274},{"sx":933,"sy":1215,"sy2":1260},{"sx":990,"sy":1236,"sy2":1281},{"sx":1046,"sy":1257,"sy2":1302},{"sx":1103,"sy":1278,"sy2":1323},{"sx":1160,"sy":1300,"sy2":1385},{"sx":1242,"sy":1285,"sy2":1330},{"sx":1324,"sy":1271,"sy2":1316},{"sx":1405,"sy":1256,"sy2":1301},{"sx":1487,"sy":1242,"sy2":1287},{"sx":1569,"sy":1227,"sy2":1307},{"sx":1651,"sy":1212,"sy2":1257},{"sx":1732,"sy":1198,"sy2":1243},{"sx":1814,"sy":1183,"sy2":1228},{"sx":1896,"sy":1169,"sy2":1214},{"sx":1978,"sy":1154,"sy2":1234},{"sx":2059,"sy":1139,"sy2":1184},{"sx":2141,"sy":1125,"sy2":1170},{"sx":2223,"sy":1110,"sy2":1155},{"sx":2305,"sy":1096,"sy2":1141},{"sx":2386,"sy":1081,"sy2":1161},{"sx":2468,"sy":1066,"sy2":1111},{"sx":2550,"sy":1052,"sy2":1097},{"sx":2632,"sy":1037,"sy2":1082},{"sx":2713,"sy":1023,"sy2":1068},{"sx":2795,"sy":1008,"sy2":1088}],
"labels3":[{"t":"0","sx":33,"sy":1042},{"t":"0.5","sx":317,"sy":1152},{"t":"1","sx":600,"sy":1260},{"t":"1.5","sx":893,"sy":1360},{"t":"2","sx":1170,"sy":1470},{"t":"1.5","sx":1588,"sy":1395},{"t":"1","sx":1985,"sy":1322},{"t":"0.5","sx":2395,"sy":1250},{"t":"0","sx":2798,"sy":1170}],
"titles3":[{"t":"y","sx":608,"sy":1470},{"t":"x","sx":1985,"sy":1520}]
},
"hconcat":[
{"width":945,"height":823,"encoding":{
"x":{"field":"x","type":"quantitative","title":"x","scale":{"domain":[0,2],"range":[0,904],"nice":false,"zero":false},"axis":{"values":[0,0.1,0.2,0.3,0.4,0.5,0.6,0.7,0.8,0.9,1,1.1,1.2,1.3,1.4,1.5,1.6,1.7,1.8,1.9,2],"labelExpr":"round(datum.value*10)%5==0?format(datum.value,'.1~f'):''","labelFontSize":37,"titleFontSize":36,"labelPadding":8,"titlePadding":0,"tickSize":{"condition":{"test":"round(datum.value*10)%5==0","value":12},"value":7}}},
"y":{"field":"y","type":"quantitative","title":null,"scale":{"domain":[1.283,9.99],"range":[823,20],"nice":false,"zero":false},"axis":{"values":[1.5,2,2.5,3,3.5,4,4.5,5,5.5,6,6.5,7,7.5,8,8.5,9,9.5],"labelExpr":"datum.value%1==0?format(datum.value,'d'):''","labelFontSize":37,"labelPadding":5,"tickSize":{"condition":{"test":"datum.value%1==0","value":12},"value":7}}}},
"layer":[
{"data":{"name":"curve"},"mark":{"type":"line","strokeWidth":2,"clip":false},"encoding":{"color":{"datum":"f(x, 0.3)","scale":{"domain":["f(x, 0.3)","fN(x, 0.3)"],"range":["#0000ff","#ff0000"]},"legend":{"orient":"none","legendX":131,"legendY":-65,"title":null,"direction":"horizontal","columns":2,"padding":9,"symbolSize":2116,"symbolStrokeWidth":3.5,"labelFontSize":40,"labelFontStyle":"italic","labelOffset":62,"columnPadding":20,"strokeColor":"black"}}}},
{"data":{"name":"curve"},"mark":{"type":"point","filled":false,"strokeWidth":3.5,"size":2116,"opacity":1,"xOffset":-20.5},"encoding":{"color":{"datum":"fN(x, 0.3)","scale":{"domain":["f(x, 0.3)","fN(x, 0.3)"],"range":["#0000ff","#ff0000"]}},"shape":{"datum":"fN(x, 0.3)","scale":{"domain":["f(x, 0.3)","fN(x, 0.3)"],"range":["M-1,0H2.78","M0.89,-0.283L1.173,0L0.89,0.283L0.607,0Z"]}}}}
]},
{"width":817,"height":828,"data":{"name":"error"},"mark":{"type":"line","strokeWidth":4,"clip":false,"interpolate":"monotone"},"encoding":{
"x":{"field":"x","type":"quantitative","title":"x","scale":{"domain":[0,2],"range":[0,813],"nice":false,"zero":false},"axis":{"values":[0,0.1,0.2,0.3,0.4,0.5,0.6,0.7,0.8,0.9,1,1.1,1.2,1.3,1.4,1.5,1.6,1.7,1.8,1.9,2],"labelExpr":"round(datum.value*10)%5==0?format(datum.value,'.1~f'):''","labelFontSize":37,"titleFontSize":34,"labelPadding":8,"titlePadding":0,"tickSize":{"condition":{"test":"round(datum.value*10)%5==0","value":12},"value":7}}},
"y":{"field":"y","type":"quantitative","title":null,"scale":{"domain":[0.000011,0.002106],"nice":false,"zero":false},"axis":{"values":[0.0001,0.0002,0.0003,0.0004,0.0005,0.0006,0.0007,0.0008,0.0009,0.001,0.0011,0.0012,0.0013,0.0014,0.0015,0.0016,0.0017,0.0018,0.0019,0.002,0.0021],"labelExpr":"round(datum.value*10000)%2==0?format(datum.value,'.4f'):''","labelFontSize":37,"labelPadding":8,"tickSize":{"condition":{"test":"round(datum.value*10000)%2==0","value":12},"value":7}}},
"color":{"datum":"Maximum absolute error","scale":{"domain":["Maximum absolute error"],"range":["#3f5a8f"]},"legend":{"orient":"none","legendX":64,"legendY":-65,"title":null,"padding":9,"symbolType":"M-1,0H4.27","symbolSize":1089,"symbolStrokeWidth":4,"labelFontSize":39,"labelOffset":66,"strokeColor":"black"}}}},
{"width":927,"height":828,"encoding":{
"x":{"field":"sx","type":"quantitative","axis":null,"scale":{"domain":[24,2805],"nice":false,"zero":false}},
"y":{"field":"sy","type":"quantitative","title":null,"scale":{"domain":[877.5,-1041],"range":[639.5,0],"nice":false,"zero":false},"axis":{"values":[877.5,654,430.5,207,-16.5,-240,-463.5,-687,-910.5],"labelExpr":"round((877.5-datum.value)/223.5)%2==0?(datum.value==877.5?'0':format((877.5-datum.value)/447000,'.3f')):''","labelFontSize":43,"labelPadding":3,"tickSize":{"condition":{"test":"round((877.5-datum.value)/223.5)%2==0","value":20},"value":12}}}},
"resolve":{"scale":{"color":"independent"}},
"layer":[
{"data":{"name":"wall"},"mark":{"type":"area","clip":false},"encoding":{"y2":{"field":"sb"},"color":{"field":"s","type":"quantitative","legend":null,"scale":{"domain":[1,8,12,14,16,18,23,29,35],"range":["#7f2452","#6d2542","#5c283a","#432a33","#35252c","#8a9f98","#82c5a0","#5fe292","#48fb9c"]}}}},
{"data":{"name":"glow"},"mark":{"type":"area","color":{"gradient":"linear","x1":0,"y1":0,"x2":0,"y2":1,"stops":[{"offset":0,"color":"rgba(255,255,255,0)"},{"offset":1,"color":"rgba(255,230,230,0.3)"}]}},"encoding":{"y2":{"field":"sb"}}},
{"data":{"name":"wallLines"},"mark":{"type":"line","color":"black","strokeWidth":3.3,"strokeJoin":"round"},"encoding":{"detail":{"field":"k"},"order":{"value":null}}},
{"data":{"name":"mid"},"mark":{"type":"area"},"encoding":{"y2":{"field":"sb"},"color":{"field":"part","type":"nominal","legend":null,"scale":{"domain":["brown","notch","brick","salmon","pink","orange","cream","meshR","pale"],"range":["#55362f","#6b5048","#7e3d34","#c76c55","#f0838c","#e89070","#ffffa8","#b8f09a","#f4ffc8"]}}}},
{"data":{"name":"midLines"},"mark":{"type":"line","color":"black","strokeWidth":3.3,"strokeJoin":"round"},"encoding":{"detail":{"field":"k"},"order":{"value":null}}},
{"data":{"name":"skin"},"mark":{"type":"area"},"encoding":{"y2":{"field":"sb"},"color":{"field":"b","type":"ordinal","legend":null,"scale":{"range":["#9a7a4c","#b08a58","#c49c68","#d8b078","#ecc980","#f6d880","#ecd878","#cfc868","#8e8c58","#8e9050","#8a8f48","#848c46","#7e8944","#788844","#708744","#6a8644","#668544","#6b8a3e","#82a840","#78b03e","#4f8e3c","#3f803c","#3d7e3c","#3b7c3b","#387a3a","#a6e8a0","#e2fbdc","#9bdca0","#3f8f4c","#5fe070"]}}}},
{"data":{"name":"frontLines"},"mark":{"type":"line","color":"black","strokeWidth":3.3,"strokeJoin":"round"},"encoding":{"detail":{"field":"k"},"order":{"value":null}}},
{"data":{"name":"axis3"},"mark":{"type":"line","color":"black","strokeWidth":3.5},"encoding":{"order":{"value":null}}},
{"data":{"name":"ticks3"},"mark":{"type":"rule","color":"black","strokeWidth":3.3},"encoding":{"y2":{"field":"sy2"}}},
{"data":{"name":"labels3"},"mark":{"type":"text","font":"Liberation Serif","fontSize":42,"color":"black"},"encoding":{"text":{"field":"t"}}},
{"data":{"name":"titles3"},"mark":{"type":"text","font":"Liberation Serif","fontSize":38,"fontStyle":"italic","color":"black"},"encoding":{"text":{"field":"t"}}}
]}
]}
